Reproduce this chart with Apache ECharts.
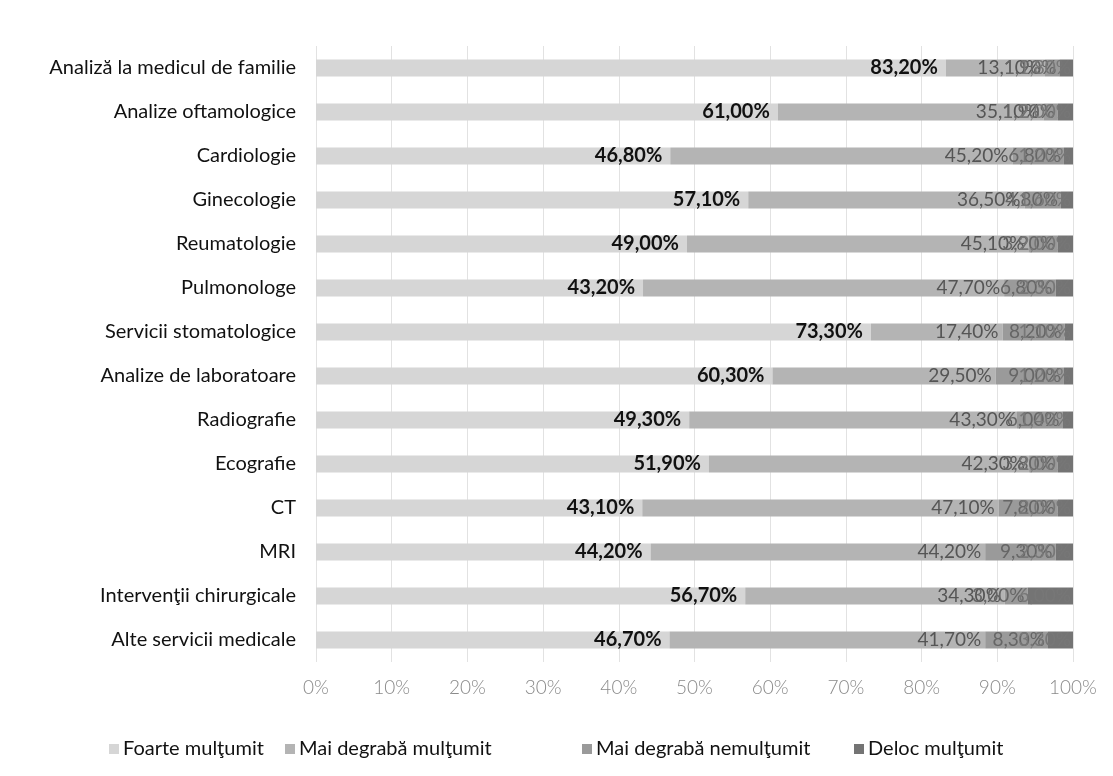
<!DOCTYPE html>
<html><head><meta charset="utf-8">
<script src="https://cdn.jsdelivr.net/npm/echarts@6/dist/echarts.min.js"></script>
<style>html,body{margin:0;padding:0;background:#fff}#c{width:1113px;height:776px}</style>
</head><body><div id="c"></div>
<script>
const categories = ["Analiză la medicul de familie","Analize oftamologice","Cardiologie","Ginecologie","Reumatologie","Pulmonologe","Servicii stomatologice","Analize de laboratoare","Radiografie","Ecografie","CT","MRI","Intervenţii chirurgicale","Alte servicii medicale"];
const foarteMultumit = [83.2,61.0,46.8,57.1,49.0,43.2,73.3,60.3,49.3,51.9,43.1,44.2,56.7,46.7];
const maiDegrabaMultumit = [13.1,35.1,45.2,36.5,45.1,47.7,17.4,29.5,43.3,42.3,47.1,44.2,34.3,41.7];
const maiDegrabaNemultumit = [1.9,1.9,6.8,4.8,3.9,6.8,8.2,9.0,6.0,3.8,7.8,9.3,3.0,8.3];
const delocMultumit = [1.8,2.0,1.2,1.6,2.0,2.3,1.1,1.2,1.4,2.0,2.0,2.3,6.0,3.3];
const seriesNames = ["Foarte mulţumit","Mai degrabă mulţumit","Mai degrabă nemulţumit","Deloc mulţumit"];
const xTicks = [0,10,20,30,40,50,60,70,80,90,100];

const fmt = v => v.value.toFixed(2).replace('.', ',') + '%';
const colors = ['#d6d6d6','#b4b4b4','#9a9a9a','#747474'];
const data = [foarteMultumit, maiDegrabaMultumit, maiDegrabaNemultumit, delocMultumit];
const labelStyles = [
  {fontWeight:'bold', color:'#111', fontSize:20, distance:8},
  {fontWeight:'normal', color:'#555', fontSize:19, distance:4},
  {fontWeight:'normal', color:'#666', fontSize:19, distance:3},
  {fontWeight:'normal', color:'#777', fontSize:19, distance:2}
];
const legendLefts = [104, 280, 577, 849];
const chart = echarts.init(document.getElementById('c'));
chart.setOption({
  animation:false,
  textStyle:{fontFamily:'Lato'},
  grid:{left:316, right:40, top:46, height:616},
  legend: seriesNames.map((n,i)=>({
    left:legendLefts[i], top:734, itemWidth:10, itemHeight:10, itemGap:0,
    icon:'rect',
    textStyle:{fontSize:20, color:'#111', fontFamily:'Lato', padding:[0,0,0,-1]},
    data:[n]
  })),
  xAxis:{
    type:'value', min:0, max:100, interval:10,
    axisLine:{show:false}, axisTick:{show:false},
    splitLine:{lineStyle:{color:'#e2e2e2'}},
    axisLabel:{formatter: v => xTicks.includes(v) ? v + '%' : '', color:'#8a8a8a', fontSize:19, fontWeight:300, margin:16}
  },
  yAxis:{
    type:'category', inverse:true, data:categories,
    axisLine:{show:false}, axisTick:{show:false},
    axisLabel:{color:'#111', fontSize:20, margin:20}
  },
  series: seriesNames.map((n,i)=>({
    name:n, type:'bar', stack:'total', barWidth:17,
    itemStyle:{color:colors[i]},
    data:data[i],
    label:{show:true, position:'insideRight', formatter:fmt, ...labelStyles[i]}
  }))
});
</script></body></html>
